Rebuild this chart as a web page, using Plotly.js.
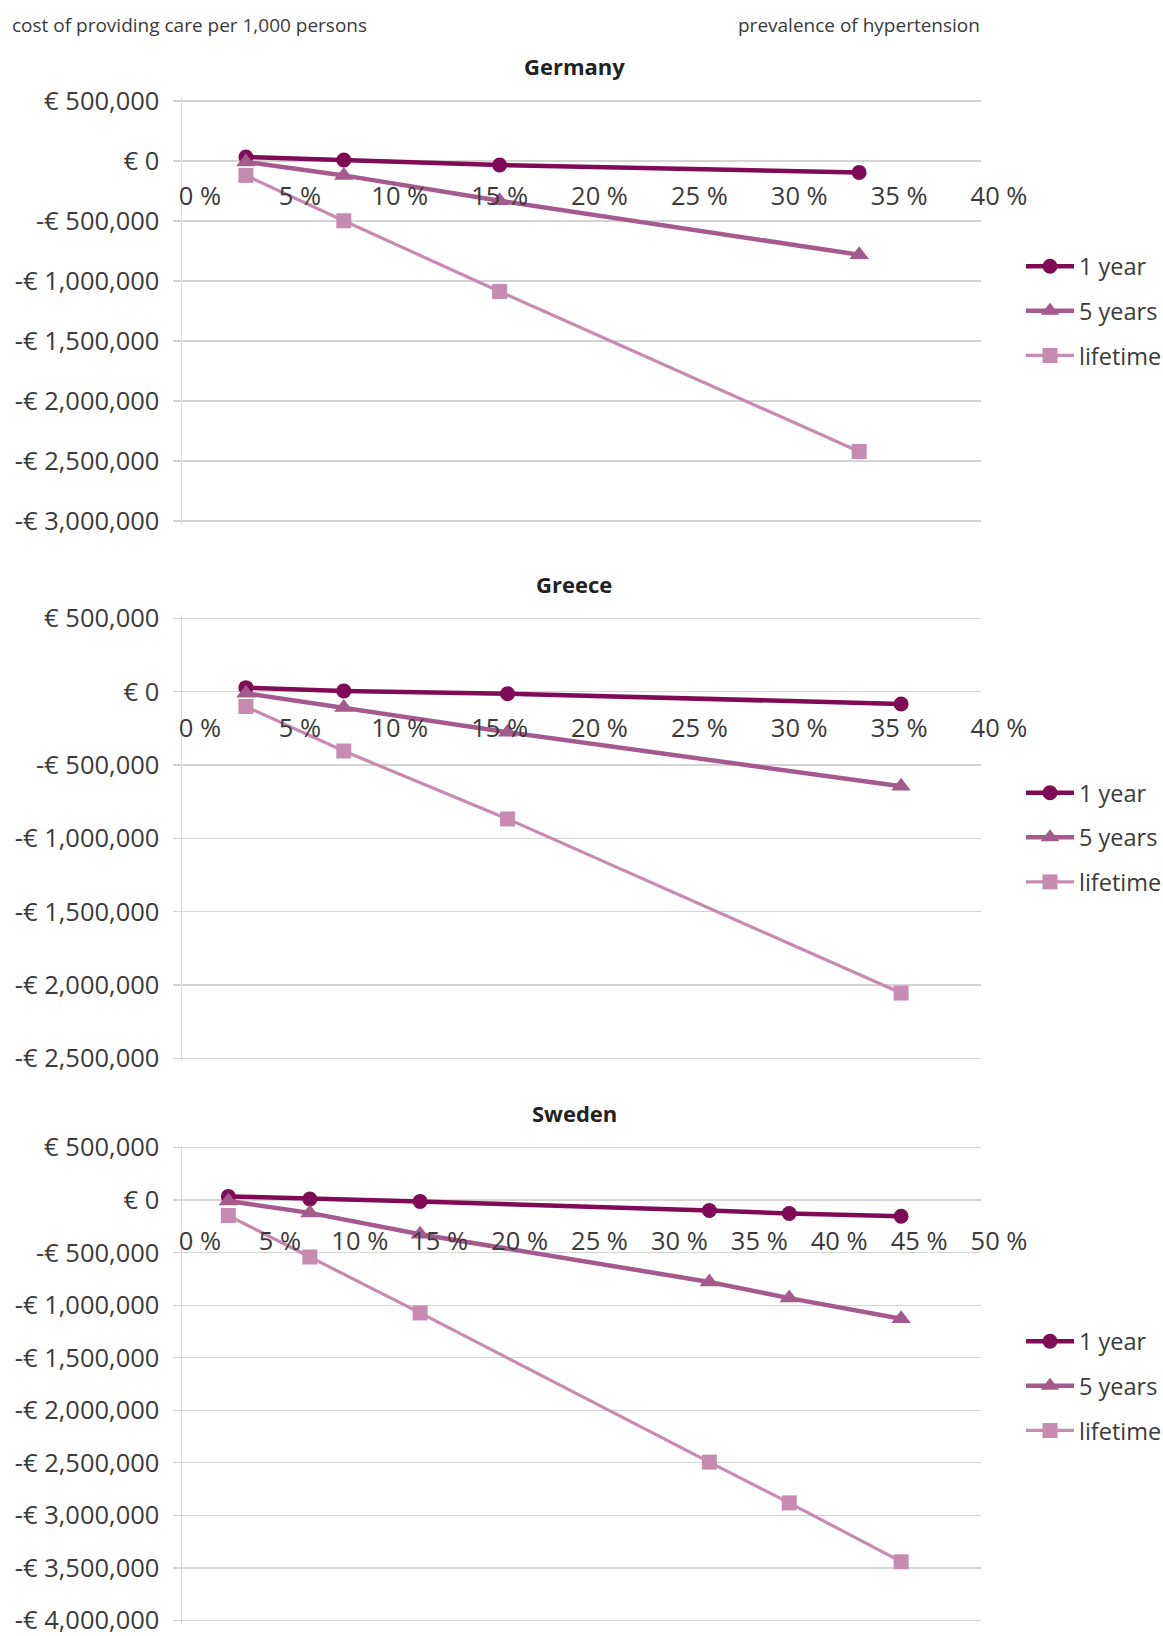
<!DOCTYPE html>
<html>
<head>
<meta charset="utf-8">
<script src="https://cdn.plot.ly/plotly-3.0.1.min.js"></script>
<style>
html,body{margin:0;padding:0;background:#fff;}
#chart{width:1163px;height:1636px;}
</style>
</head>
<body>
<div id="chart"></div>
<script>
// ---- data ----
var seriesNames = ['1 year', '5 years', 'lifetime'];

var germanyPrev = [3.2, 8.1, 15.9, 33.9];
var germany1y   = [33000, 8000, -33000, -95000];
var germany5y   = [-8000, -120000, -331000, -781000];
var germanyLife = [-120000, -498000, -1088000, -2421000];

var greecePrev = [3.2, 8.1, 16.3, 36.0];
var greece1y   = [27000, 5000, -14000, -84000];
var greece5y   = [-11000, -109000, -277000, -645000];
var greeceLife = [-102000, -405000, -868000, -2055000];

var swedenPrev = [2.9, 8.0, 14.9, 33.0, 38.0, 45.0];
var sweden1y   = [35000, 10000, -13000, -99000, -128000, -154000];
var sweden5y   = [-8000, -122000, -326000, -779000, -933000, -1130000];
var swedenLife = [-148000, -542000, -1074000, -2493000, -2881000, -3440000];

var germanyYTicks = [500000, 0, -500000, -1000000, -1500000, -2000000, -2500000, -3000000];
var germanyYText  = ['€ 500,000', '€ 0', '-€ 500,000', '-€ 1,000,000', '-€ 1,500,000', '-€ 2,000,000', '-€ 2,500,000', '-€ 3,000,000'];
var greeceYTicks = [500000, 0, -500000, -1000000, -1500000, -2000000, -2500000];
var greeceYText  = ['€ 500,000', '€ 0', '-€ 500,000', '-€ 1,000,000', '-€ 1,500,000', '-€ 2,000,000', '-€ 2,500,000'];
var swedenYTicks = [500000, 0, -500000, -1000000, -1500000, -2000000, -2500000, -3000000, -3500000, -4000000];
var swedenYText  = ['€ 500,000', '€ 0', '-€ 500,000', '-€ 1,000,000', '-€ 1,500,000', '-€ 2,000,000', '-€ 2,500,000', '-€ 3,000,000', '-€ 3,500,000', '-€ 4,000,000'];

var panelTitles = ['Germany', 'Greece', 'Sweden'];
var headerLeft = 'cost of providing care per 1,000 persons';
var headerRight = 'prevalence of hypertension';

// ---- styles ----
var FONT = 'Open Sans, Lato, sans-serif';
var TXT = '#3a3a3a';
var colors = ['#7f0a55', '#a55a8d', '#c78bb1'];
var symbols = ['circle', 'triangle-up', 'square'];
var msizes = [15, 17, 15];
var lwidths = [4.5, 4.5, 3.2];

var W = 1163, H = 1636;
function py(px) { return 1 - px / H; }
var xdom = [182 / W, 981 / W];

// y-axis placement: pixel of top tick value and bottom tick value; pad a few px so edge gridlines survive
var PAD = 3;
function yPlace(topVal, botVal, topPx, botPx) {
  var upp = (topVal - botVal) / (botPx - topPx);
  return {
    domain: [py(botPx + PAD), py(topPx - PAD)],
    range: [botVal - PAD * upp, topVal + PAD * upp],
    zeroPos: py(topPx + topVal / upp)
  };
}
var gP = yPlace(500000, -3000000, 101, 521);
var grP = yPlace(500000, -2500000, 618.3, 1058.3);
var sP = yPlace(500000, -4000000, 1147.5, 1620.5);

var panels = [
  {x: germanyPrev, ys: [germany1y, germany5y, germanyLife], xa: 'x', ya: 'y', lg: 'legend'},
  {x: greecePrev, ys: [greece1y, greece5y, greeceLife], xa: 'x2', ya: 'y2', lg: 'legend2'},
  {x: swedenPrev, ys: [sweden1y, sweden5y, swedenLife], xa: 'x3', ya: 'y3', lg: 'legend3'}
];

var traces = [];
panels.forEach(function (p, pi) {
  p.ys.forEach(function (yv, si) {
    traces.push({
      type: 'scatter', mode: 'lines+markers',
      x: p.x, y: yv, name: seriesNames[si],
      xaxis: p.xa, yaxis: p.ya, legend: p.lg,
      legendgroup: 'p' + pi + 's' + si,
      line: {color: colors[si], width: lwidths[si]},
      marker: {color: colors[si], symbol: symbols[si], size: msizes[si], line: {width: 0}},
      hoverinfo: 'x+y'
    });
  });
});

function xAxis(range, dtick, pos, standoff) {
  return {
    domain: xdom, range: range, anchor: 'free', position: pos,
    tick0: 0, dtick: dtick, ticksuffix: ' %',
    showgrid: false, zeroline: false, showline: false, ticks: '',
    ticklabelshift: 18, ticklabelstandoff: standoff, ticklabeloverflow: 'allow',
    tickfont: {family: FONT, size: 25.5, color: TXT},
    fixedrange: true
  };
}
function yAxis(pl, tv, tt, xa) {
  return {
    domain: pl.domain, range: pl.range, anchor: xa,
    tickvals: tv, ticktext: tt,
    showgrid: true, gridcolor: '#d4d4d4', gridwidth: 1.3,
    zeroline: false, showline: true, linecolor: '#d9d9d9', linewidth: 1.5,
    ticks: 'outside', ticklen: 8, tickcolor: '#d4d4d4', tickwidth: 1.3,
    ticklabelstandoff: 8, ticklabeloverflow: 'allow',
    tickfont: {family: FONT, size: 25.5, color: TXT},
    fixedrange: true
  };
}
function legendAt(ycenter) {
  return {
    x: 1021 / W, xanchor: 'left', y: py(ycenter), yanchor: 'middle',
    font: {family: FONT, size: 23.5, color: TXT},
    itemwidth: 48, tracegroupgap: 11, bgcolor: 'rgba(0,0,0,0)',
    traceorder: 'grouped'
  };
}

var layout = {
  width: W, height: H,
  margin: {l: 0, r: 0, t: 0, b: 0, autoexpand: false},
  paper_bgcolor: '#fff', plot_bgcolor: '#fff',
  font: {family: FONT, color: TXT},
  showlegend: true,
  xaxis: xAxis([0, 40], 5, gP.zeroPos, 17),
  yaxis: yAxis(gP, germanyYTicks, germanyYText, 'x'),
  xaxis2: xAxis([0, 40], 5, grP.zeroPos, 19),
  yaxis2: yAxis(grP, greeceYTicks, greeceYText, 'x2'),
  xaxis3: xAxis([0, 50], 5, sP.zeroPos, 23),
  yaxis3: yAxis(sP, swedenYTicks, swedenYText, 'x3'),
  legend: legendAt(311),
  legend2: legendAt(837.5),
  legend3: legendAt(1386),
  annotations: [
    {xref: 'paper', yref: 'paper', x: 10 / W, y: py(25), xanchor: 'left', yanchor: 'middle',
     text: headerLeft, showarrow: false, font: {family: FONT, size: 19, color: TXT}},
    {xref: 'paper', yref: 'paper', x: 982 / W, y: py(25), xanchor: 'right', yanchor: 'middle',
     text: headerRight, showarrow: false, font: {family: FONT, size: 19, color: TXT}},
    {xref: 'paper', yref: 'paper', x: 574 / W, y: py(66), xanchor: 'center', yanchor: 'middle',
     text: '<b>' + panelTitles[0] + '</b>', showarrow: false, font: {family: FONT, size: 22, color: '#222'}},
    {xref: 'paper', yref: 'paper', x: 574 / W, y: py(583.5), xanchor: 'center', yanchor: 'middle',
     text: '<b>' + panelTitles[1] + '</b>', showarrow: false, font: {family: FONT, size: 22, color: '#222'}},
    {xref: 'paper', yref: 'paper', x: 574 / W, y: py(1112.5), xanchor: 'center', yanchor: 'middle',
     text: '<b>' + panelTitles[2] + '</b>', showarrow: false, font: {family: FONT, size: 22, color: '#222'}}
  ]
};

Plotly.newPlot('chart', traces, layout, {displayModeBar: false, staticPlot: true});
</script>
</body>
</html>
